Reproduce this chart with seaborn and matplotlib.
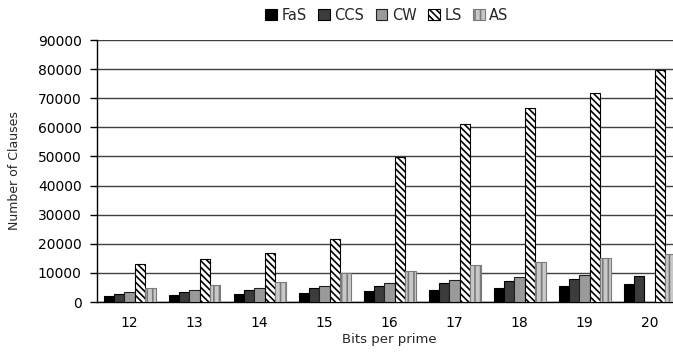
import numpy as np
import pandas as pd
import matplotlib
matplotlib.use('Agg')
import matplotlib.pyplot as plt
import seaborn as sns

# values
bits = ['12', '13', '14', '15', '16', '17', '18', '19', '20']
methods = ['FaS', 'CCS', 'CW', 'LS', 'AS']
fas = [1900, 2300, 2800, 3200, 3800, 4200, 4800, 5500, 6200]
ccs = [2900, 3500, 4200, 4800, 5400, 6500, 7300, 8000, 8900]
cw = [3600, 4100, 4900, 5400, 6400, 7600, 8500, 9300, np.nan]
ls = [13000, 14800, 16700, 21700, 49800, 61200, 66500, 71800, 79800]
as_ = [4800, 5800, 6800, 9900, 10800, 12600, 13800, 15000, 16400]

df = pd.DataFrame({'bits': bits * 5,
                   'method': np.repeat(methods, len(bits)),
                   'clauses': fas + ccs + cw + ls + as_})

sns.set_style('white')
plt.rcParams['font.family'] = ['DejaVu Sans']
plt.rcParams['hatch.linewidth'] = 1.2

fig = plt.figure(figsize=(6.73, 3.52), dpi=100)
ax = fig.add_axes([97 / 673, 50 / 352, 585 / 673, 262 / 352])

colors = ['#000000', '#3c3c3c', '#9a9a9a', '#ffffff', '#c8c8c8']
sns.barplot(data=df, x='bits', y='clauses', hue='method', hue_order=methods,
            palette=colors, width=0.8, saturation=1, ax=ax, zorder=3, legend=False)

hatches = [None, None, None, '\\\\\\\\\\', '|||']
edges = ['#000000', '#000000', '#202020', '#000000', '#7a7a7a']
for cont, h, ec in zip(ax.containers, hatches, edges):
    for bar in cont:
        bar.set_edgecolor(ec)
        bar.set_linewidth(0.8)
        if h:
            bar.set_hatch(h)

ax.set_ylim(0, 90000)
ax.set_xlim(-0.5, 8.5)
ax.set_yticks(range(0, 90001, 10000))
ax.yaxis.grid(True, color='#404040', linewidth=1.0, zorder=0)
ax.set_axisbelow(True)
for s in ['top', 'right']:
    ax.spines[s].set_visible(False)
for s in ['left', 'bottom']:
    ax.spines[s].set_color('black')
    ax.spines[s].set_linewidth(1.0)

ax.set_xticks(np.arange(9))
ax.set_xticks(np.arange(-0.5, 9, 1), minor=True)
ax.tick_params(axis='x', which='major', length=0, pad=10, labelsize=10, colors='black')
ax.tick_params(axis='x', which='minor', length=4, width=1, color='black', direction='out')
ax.tick_params(axis='y', length=5, width=1, pad=6, labelsize=10, left=True,
               direction='out', colors='black')

ax.set_xlabel('Bits per prime', fontsize=9.5, labelpad=2)
ax.set_ylabel('Number of Clauses', fontsize=9, labelpad=12,
              family=['Liberation Sans Narrow', 'DejaVu Sans Condensed', 'DejaVu Sans'])

handles = [cont[0] for cont in ax.containers]
ax.legend(handles, methods, loc='center', bbox_to_anchor=(387 / 673, 1 - 15 / 352),
          bbox_transform=fig.transFigure, ncol=5, frameon=False,
          fontsize=10.5, handlelength=0.8, handleheight=0.8,
          handletextpad=0.3, columnspacing=0.8, borderpad=0)

fig.savefig('out.png', dpi=100)
